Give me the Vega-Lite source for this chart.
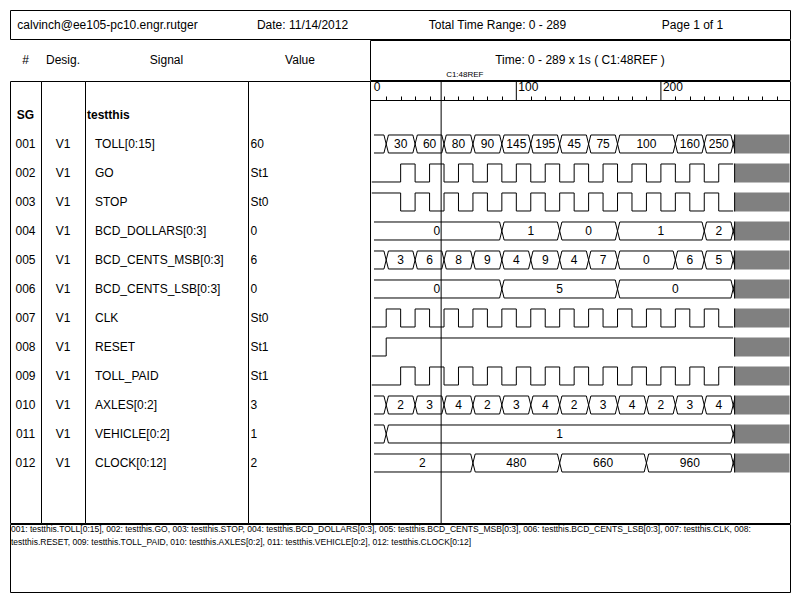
{
  "$schema": "https://vega.github.io/schema/vega-lite/v6.json",
  "background": "white",
  "padding": {"left": 9, "top": 9, "right": 9, "bottom": 9},
  "spacing": -3,
  "config": {
    "view": {"stroke": "black", "strokeWidth": 1},
    "mark": {"color": "black"},
    "text": {"font": "Liberation Sans", "fontSize": 12, "color": "black"}
  },
  "datasets": {
    "header": [
      {"item": "user", "text": "calvinch@ee105-pc10.engr.rutger"},
      {"item": "date", "text": "Date: 11/14/2012"},
      {"item": "range", "text": "Total Time Range: 0 - 289"},
      {"item": "page", "text": "Page 1 of 1"}
    ],
    "rows": [
      {"row": 0, "num": "SG", "desig": "", "name": "testthis", "value": ""},
      {"row": 1, "num": "001", "desig": "V1", "name": "TOLL[0:15]", "value": "60"},
      {"row": 2, "num": "002", "desig": "V1", "name": "GO", "value": "St1"},
      {"row": 3, "num": "003", "desig": "V1", "name": "STOP", "value": "St0"},
      {"row": 4, "num": "004", "desig": "V1", "name": "BCD_DOLLARS[0:3]", "value": "0"},
      {"row": 5, "num": "005", "desig": "V1", "name": "BCD_CENTS_MSB[0:3]", "value": "6"},
      {"row": 6, "num": "006", "desig": "V1", "name": "BCD_CENTS_LSB[0:3]", "value": "0"},
      {"row": 7, "num": "007", "desig": "V1", "name": "CLK", "value": "St0"},
      {"row": 8, "num": "008", "desig": "V1", "name": "RESET", "value": "St1"},
      {"row": 9, "num": "009", "desig": "V1", "name": "TOLL_PAID", "value": "St1"},
      {"row": 10, "num": "010", "desig": "V1", "name": "AXLES[0:2]", "value": "3"},
      {"row": 11, "num": "011", "desig": "V1", "name": "VEHICLE[0:2]", "value": "1"},
      {"row": 12, "num": "012", "desig": "V1", "name": "CLOCK[0:12]", "value": "2"}
    ],
    "cursor": [{"t": 48, "name": "C1:48REF"}],
    "ruler": [{"t": 0, "label": "0"}, {"t": 100, "label": "100"}, {"t": 200, "label": "200"}],
    "grey": [
      {"row": 1, "t0": 251, "t1": 289}, {"row": 2, "t0": 251, "t1": 289}, {"row": 3, "t0": 251, "t1": 289},
      {"row": 4, "t0": 251, "t1": 289}, {"row": 5, "t0": 251, "t1": 289}, {"row": 6, "t0": 251, "t1": 289},
      {"row": 7, "t0": 251, "t1": 289}, {"row": 8, "t0": 251, "t1": 289}, {"row": 9, "t0": 251, "t1": 289},
      {"row": 10, "t0": 251, "t1": 289}, {"row": 11, "t0": 251, "t1": 289}, {"row": 12, "t0": 251, "t1": 289}
    ],
    "bus": [
      {"row": 1, "t0": 0, "t1": 10, "label": ""},
      {"row": 1, "t0": 10, "t1": 30, "label": "30"},
      {"row": 1, "t0": 30, "t1": 50, "label": "60"},
      {"row": 1, "t0": 50, "t1": 70, "label": "80"},
      {"row": 1, "t0": 70, "t1": 90, "label": "90"},
      {"row": 1, "t0": 90, "t1": 110, "label": "145"},
      {"row": 1, "t0": 110, "t1": 130, "label": "195"},
      {"row": 1, "t0": 130, "t1": 150, "label": "45"},
      {"row": 1, "t0": 150, "t1": 170, "label": "75"},
      {"row": 1, "t0": 170, "t1": 210, "label": "100"},
      {"row": 1, "t0": 210, "t1": 230, "label": "160"},
      {"row": 1, "t0": 230, "t1": 250, "label": "250"},
      {"row": 4, "t0": 0, "t1": 90, "label": "0"},
      {"row": 4, "t0": 90, "t1": 130, "label": "1"},
      {"row": 4, "t0": 130, "t1": 170, "label": "0"},
      {"row": 4, "t0": 170, "t1": 230, "label": "1"},
      {"row": 4, "t0": 230, "t1": 250, "label": "2"},
      {"row": 5, "t0": 0, "t1": 10, "label": ""},
      {"row": 5, "t0": 10, "t1": 30, "label": "3"},
      {"row": 5, "t0": 30, "t1": 50, "label": "6"},
      {"row": 5, "t0": 50, "t1": 70, "label": "8"},
      {"row": 5, "t0": 70, "t1": 90, "label": "9"},
      {"row": 5, "t0": 90, "t1": 110, "label": "4"},
      {"row": 5, "t0": 110, "t1": 130, "label": "9"},
      {"row": 5, "t0": 130, "t1": 150, "label": "4"},
      {"row": 5, "t0": 150, "t1": 170, "label": "7"},
      {"row": 5, "t0": 170, "t1": 210, "label": "0"},
      {"row": 5, "t0": 210, "t1": 230, "label": "6"},
      {"row": 5, "t0": 230, "t1": 250, "label": "5"},
      {"row": 6, "t0": 0, "t1": 90, "label": "0"},
      {"row": 6, "t0": 90, "t1": 170, "label": "5"},
      {"row": 6, "t0": 170, "t1": 250, "label": "0"},
      {"row": 10, "t0": 0, "t1": 10, "label": ""},
      {"row": 10, "t0": 10, "t1": 30, "label": "2"},
      {"row": 10, "t0": 30, "t1": 50, "label": "3"},
      {"row": 10, "t0": 50, "t1": 70, "label": "4"},
      {"row": 10, "t0": 70, "t1": 90, "label": "2"},
      {"row": 10, "t0": 90, "t1": 110, "label": "3"},
      {"row": 10, "t0": 110, "t1": 130, "label": "4"},
      {"row": 10, "t0": 130, "t1": 150, "label": "2"},
      {"row": 10, "t0": 150, "t1": 170, "label": "3"},
      {"row": 10, "t0": 170, "t1": 190, "label": "4"},
      {"row": 10, "t0": 190, "t1": 210, "label": "2"},
      {"row": 10, "t0": 210, "t1": 230, "label": "3"},
      {"row": 10, "t0": 230, "t1": 250, "label": "4"},
      {"row": 11, "t0": 0, "t1": 10, "label": ""},
      {"row": 11, "t0": 10, "t1": 250, "label": "1"},
      {"row": 12, "t0": 0, "t1": 70, "label": "2"},
      {"row": 12, "t0": 70, "t1": 130, "label": "480"},
      {"row": 12, "t0": 130, "t1": 190, "label": "660"},
      {"row": 12, "t0": 190, "t1": 250, "label": "960"}
    ],
    "digital": [
      {"row": 2, "t0": 0, "t1": 20, "v": 0}, {"row": 2, "t0": 20, "t1": 30, "v": 1}, {"row": 2, "t0": 30, "t1": 40, "v": 0},
      {"row": 2, "t0": 40, "t1": 50, "v": 1}, {"row": 2, "t0": 50, "t1": 60, "v": 0}, {"row": 2, "t0": 60, "t1": 70, "v": 1},
      {"row": 2, "t0": 70, "t1": 80, "v": 0}, {"row": 2, "t0": 80, "t1": 90, "v": 1}, {"row": 2, "t0": 90, "t1": 100, "v": 0},
      {"row": 2, "t0": 100, "t1": 110, "v": 1}, {"row": 2, "t0": 110, "t1": 120, "v": 0}, {"row": 2, "t0": 120, "t1": 130, "v": 1},
      {"row": 2, "t0": 130, "t1": 140, "v": 0}, {"row": 2, "t0": 140, "t1": 150, "v": 1}, {"row": 2, "t0": 150, "t1": 160, "v": 0},
      {"row": 2, "t0": 160, "t1": 170, "v": 1}, {"row": 2, "t0": 170, "t1": 180, "v": 0}, {"row": 2, "t0": 180, "t1": 190, "v": 1},
      {"row": 2, "t0": 190, "t1": 200, "v": 0}, {"row": 2, "t0": 200, "t1": 210, "v": 1}, {"row": 2, "t0": 210, "t1": 220, "v": 0},
      {"row": 2, "t0": 220, "t1": 230, "v": 1}, {"row": 2, "t0": 230, "t1": 240, "v": 0}, {"row": 2, "t0": 240, "t1": 250, "v": 1},
      {"row": 3, "t0": 0, "t1": 20, "v": 1}, {"row": 3, "t0": 20, "t1": 30, "v": 0}, {"row": 3, "t0": 30, "t1": 40, "v": 1},
      {"row": 3, "t0": 40, "t1": 50, "v": 0}, {"row": 3, "t0": 50, "t1": 60, "v": 1}, {"row": 3, "t0": 60, "t1": 70, "v": 0},
      {"row": 3, "t0": 70, "t1": 80, "v": 1}, {"row": 3, "t0": 80, "t1": 90, "v": 0}, {"row": 3, "t0": 90, "t1": 100, "v": 1},
      {"row": 3, "t0": 100, "t1": 110, "v": 0}, {"row": 3, "t0": 110, "t1": 120, "v": 1}, {"row": 3, "t0": 120, "t1": 130, "v": 0},
      {"row": 3, "t0": 130, "t1": 140, "v": 1}, {"row": 3, "t0": 140, "t1": 150, "v": 0}, {"row": 3, "t0": 150, "t1": 160, "v": 1},
      {"row": 3, "t0": 160, "t1": 170, "v": 0}, {"row": 3, "t0": 170, "t1": 180, "v": 1}, {"row": 3, "t0": 180, "t1": 190, "v": 0},
      {"row": 3, "t0": 190, "t1": 200, "v": 1}, {"row": 3, "t0": 200, "t1": 210, "v": 0}, {"row": 3, "t0": 210, "t1": 220, "v": 1},
      {"row": 3, "t0": 220, "t1": 230, "v": 0}, {"row": 3, "t0": 230, "t1": 240, "v": 1}, {"row": 3, "t0": 240, "t1": 250, "v": 0},
      {"row": 7, "t0": 0, "t1": 10, "v": 0}, {"row": 7, "t0": 10, "t1": 20, "v": 1}, {"row": 7, "t0": 20, "t1": 30, "v": 0},
      {"row": 7, "t0": 30, "t1": 40, "v": 1}, {"row": 7, "t0": 40, "t1": 50, "v": 0}, {"row": 7, "t0": 50, "t1": 60, "v": 1},
      {"row": 7, "t0": 60, "t1": 70, "v": 0}, {"row": 7, "t0": 70, "t1": 80, "v": 1}, {"row": 7, "t0": 80, "t1": 90, "v": 0},
      {"row": 7, "t0": 90, "t1": 100, "v": 1}, {"row": 7, "t0": 100, "t1": 110, "v": 0}, {"row": 7, "t0": 110, "t1": 120, "v": 1},
      {"row": 7, "t0": 120, "t1": 130, "v": 0}, {"row": 7, "t0": 130, "t1": 140, "v": 1}, {"row": 7, "t0": 140, "t1": 150, "v": 0},
      {"row": 7, "t0": 150, "t1": 160, "v": 1}, {"row": 7, "t0": 160, "t1": 170, "v": 0}, {"row": 7, "t0": 170, "t1": 180, "v": 1},
      {"row": 7, "t0": 180, "t1": 190, "v": 0}, {"row": 7, "t0": 190, "t1": 200, "v": 1}, {"row": 7, "t0": 200, "t1": 210, "v": 0},
      {"row": 7, "t0": 210, "t1": 220, "v": 1}, {"row": 7, "t0": 220, "t1": 230, "v": 0}, {"row": 7, "t0": 230, "t1": 240, "v": 1},
      {"row": 7, "t0": 240, "t1": 250, "v": 0},
      {"row": 8, "t0": 0, "t1": 10, "v": 0}, {"row": 8, "t0": 10, "t1": 250, "v": 1},
      {"row": 9, "t0": 0, "t1": 20, "v": 0}, {"row": 9, "t0": 20, "t1": 30, "v": 1}, {"row": 9, "t0": 30, "t1": 40, "v": 0},
      {"row": 9, "t0": 40, "t1": 50, "v": 1}, {"row": 9, "t0": 50, "t1": 60, "v": 0}, {"row": 9, "t0": 60, "t1": 70, "v": 1},
      {"row": 9, "t0": 70, "t1": 80, "v": 0}, {"row": 9, "t0": 80, "t1": 90, "v": 1}, {"row": 9, "t0": 90, "t1": 100, "v": 0},
      {"row": 9, "t0": 100, "t1": 110, "v": 1}, {"row": 9, "t0": 110, "t1": 120, "v": 0}, {"row": 9, "t0": 120, "t1": 130, "v": 1},
      {"row": 9, "t0": 130, "t1": 140, "v": 0}, {"row": 9, "t0": 140, "t1": 150, "v": 1}, {"row": 9, "t0": 150, "t1": 160, "v": 0},
      {"row": 9, "t0": 160, "t1": 170, "v": 1}, {"row": 9, "t0": 170, "t1": 180, "v": 0}, {"row": 9, "t0": 180, "t1": 190, "v": 1},
      {"row": 9, "t0": 190, "t1": 200, "v": 0}, {"row": 9, "t0": 200, "t1": 210, "v": 1}, {"row": 9, "t0": 210, "t1": 220, "v": 0},
      {"row": 9, "t0": 220, "t1": 230, "v": 1}, {"row": 9, "t0": 230, "t1": 240, "v": 0}, {"row": 9, "t0": 240, "t1": 250, "v": 1}
    ],
    "footer": [
      {"line": 1, "text": "001: testthis.TOLL[0:15], 002: testthis.GO, 003: testthis.STOP, 004: testthis.BCD_DOLLARS[0:3], 005: testthis.BCD_CENTS_MSB[0:3], 006: testthis.BCD_CENTS_LSB[0:3], 007: testthis.CLK, 008:"},
      {"line": 2, "text": "testthis.RESET, 009: testthis.TOLL_PAID, 010: testthis.AXLES[0:2], 011: testthis.VEHICLE[0:2], 012: testthis.CLOCK[0:12]"}
    ]
  },
  "vconcat": [
    {
      "width": 780, "height": 29,
      "data": {"name": "header"},
      "mark": {"type": "text"},
      "encoding": {
        "x": {"field": "item", "type": "nominal", "sort": null, "scale": {"type": "point", "padding": 0.5, "domain": ["user", "date", "range", "page"]}, "axis": null},
        "text": {"field": "text"}
      }
    },
    {
      "bounds": "flush", "spacing": 0,
      "hconcat": [
        {"width": 31, "height": 40, "data": {"values": [{"text": "#"}]}, "mark": "text", "encoding": {"text": {"field": "text"}}},
        {"width": 44, "height": 40, "data": {"values": [{"text": "Desig."}]}, "mark": "text", "encoding": {"text": {"field": "text"}}},
        {"width": 163, "height": 40, "data": {"values": [{"text": "Signal"}]}, "mark": "text", "encoding": {"text": {"field": "text"}}},
        {"width": 122, "height": 40, "data": {"values": [{"text": "Value"}]}, "mark": {"type": "text", "dx": -9}, "encoding": {"text": {"field": "text"}}},
        {
          "width": 420, "height": 40,
          "layer": [
            {"data": {"values": [{"text": "Time: 0 - 289 x 1s ( C1:48REF )"}]}, "mark": "text", "encoding": {"text": {"field": "text"}}},
            {"data": {"name": "cursor"}, "mark": {"type": "text", "align": "left", "fontSize": 8, "dx": 5, "dy": 14.5},
             "encoding": {"x": {"field": "t", "type": "quantitative", "scale": {"domain": [-1.2, 289.3], "nice": false, "zero": false}, "axis": null}, "text": {"field": "name"}}}
          ]
        }
      ]
    },
    {
      "bounds": "flush", "spacing": 0,
      "hconcat": [
        {
          "width": 31, "height": 442, "data": {"name": "rows"},
          "layer": [
            {"transform": [{"filter": "datum.row > 0"}], "mark": "text",
             "encoding": {"y": {"field": "row", "type": "quantitative", "scale": {"domain": [-1.17241, 14.06897], "reverse": true, "nice": false, "zero": false}, "axis": null}, "text": {"field": "num"}}},
            {"transform": [{"filter": "datum.row == 0"}], "mark": {"type": "text", "fontWeight": "bold"},
             "encoding": {"y": {"field": "row", "type": "quantitative", "scale": {"domain": [-1.17241, 14.06897], "reverse": true, "nice": false, "zero": false}, "axis": null}, "text": {"field": "num"}}}
          ]
        },
        {
          "width": 44, "height": 442, "data": {"name": "rows"},
          "mark": "text",
          "encoding": {"y": {"field": "row", "type": "quantitative", "scale": {"domain": [-1.17241, 14.06897], "reverse": true, "nice": false, "zero": false}, "axis": null}, "text": {"field": "desig"}}
        },
        {
          "width": 163, "height": 442, "data": {"name": "rows"},
          "layer": [
            {"transform": [{"filter": "datum.row > 0"}], "mark": {"type": "text", "align": "left", "dx": 10},
             "encoding": {"x": {"datum": 0, "type": "quantitative", "scale": {"domain": [0, 1]}, "axis": null},
                          "y": {"field": "row", "type": "quantitative", "scale": {"domain": [-1.17241, 14.06897], "reverse": true, "nice": false, "zero": false}, "axis": null}, "text": {"field": "name"}}},
            {"transform": [{"filter": "datum.row == 0"}], "mark": {"type": "text", "align": "left", "dx": 2, "fontWeight": "bold"},
             "encoding": {"x": {"datum": 0, "type": "quantitative", "scale": {"domain": [0, 1]}, "axis": null},
                          "y": {"field": "row", "type": "quantitative", "scale": {"domain": [-1.17241, 14.06897], "reverse": true, "nice": false, "zero": false}, "axis": null}, "text": {"field": "name"}}}
          ]
        },
        {
          "width": 122, "height": 442, "data": {"name": "rows"},
          "mark": {"type": "text", "align": "left", "dx": 2.5},
          "encoding": {"x": {"datum": 0, "type": "quantitative", "scale": {"domain": [0, 1]}, "axis": null},
                       "y": {"field": "row", "type": "quantitative", "scale": {"domain": [-1.17241, 14.06897], "reverse": true, "nice": false, "zero": false}, "axis": null}, "text": {"field": "value"}}
        },
        {
          "bounds": "flush", "spacing": 0,
          "vconcat": [
            {
              "width": 420, "height": 19,
              "layer": [
                {"data": {"name": "cursor"}, "mark": "rule",
                 "encoding": {"x": {"field": "t", "type": "quantitative", "scale": {"domain": [-1.2, 289.3], "nice": false, "zero": false},
                   "axis": {"orient": "bottom", "values": [10,20,30,40,50,60,70,80,90,110,120,130,140,150,160,170,180,190,210,220,230,240,250,260,270,280], "tickSize": -4, "domain": false, "labels": false, "grid": false, "title": null, "tickColor": "black", "tickWidth": 1}}}},
                {"data": {"name": "ruler"}, "transform": [{"filter": "datum.t > 0"}], "mark": "rule",
                 "encoding": {"x": {"field": "t", "type": "quantitative", "scale": {"domain": [-1.2, 289.3], "nice": false, "zero": false},
                   "axis": {"orient": "bottom", "values": [10,20,30,40,50,60,70,80,90,110,120,130,140,150,160,170,180,190,210,220,230,240,250,260,270,280], "tickSize": -4, "domain": false, "labels": false, "grid": false, "title": null, "tickColor": "black", "tickWidth": 1}}}},
                {"data": {"name": "ruler"}, "mark": {"type": "text", "align": "left", "dx": 2, "dy": -4},
                 "encoding": {"x": {"field": "t", "type": "quantitative", "scale": {"domain": [-1.2, 289.3], "nice": false, "zero": false},
                   "axis": {"orient": "bottom", "values": [10,20,30,40,50,60,70,80,90,110,120,130,140,150,160,170,180,190,210,220,230,240,250,260,270,280], "tickSize": -4, "domain": false, "labels": false, "grid": false, "title": null, "tickColor": "black", "tickWidth": 1}},
                   "text": {"field": "label"}}}
              ]
            },
            {
              "width": 420, "height": 423,
              "layer": [
                {"data": {"name": "digital"}, "transform": [{"filter": "datum.v == 1"}], "mark": {"type": "rule", "yOffset": -9},
                 "encoding": {
                   "x": {"field": "t0", "type": "quantitative", "scale": {"domain": [-1.2, 289.3], "nice": false, "zero": false}, "axis": null},
                   "x2": {"field": "t1"},
                   "y": {"field": "row", "type": "quantitative", "scale": {"domain": [-0.51724, 14.06897], "reverse": true, "nice": false, "zero": false}, "axis": null}
                 }},
                {"data": {"name": "digital"}, "transform": [{"filter": "datum.v == 0"}], "mark": {"type": "rule", "yOffset": 9},
                 "encoding": {
                   "x": {"field": "t0", "type": "quantitative", "scale": {"domain": [-1.2, 289.3], "nice": false, "zero": false}, "axis": null},
                   "x2": {"field": "t1"},
                   "y": {"field": "row", "type": "quantitative", "scale": {"domain": [-0.51724, 14.06897], "reverse": true, "nice": false, "zero": false}, "axis": null}
                 }},
                {"data": {"name": "digital"}, "transform": [{"filter": "datum.t0 > 0"}], "mark": {"type": "rule", "yOffset": -9, "y2Offset": 9},
                 "encoding": {
                   "x": {"field": "t0", "type": "quantitative", "scale": {"domain": [-1.2, 289.3], "nice": false, "zero": false}, "axis": null},
                   "y": {"field": "row", "type": "quantitative", "scale": {"domain": [-0.51724, 14.06897], "reverse": true, "nice": false, "zero": false}, "axis": null},
                   "y2": {"field": "row"}
                 }},
                {"data": {"name": "bus"}, "mark": {"type": "rule", "yOffset": -9, "xOffset": 2.25, "x2Offset": -2.25},
                 "encoding": {
                   "x": {"field": "t0", "type": "quantitative", "scale": {"domain": [-1.2, 289.3], "nice": false, "zero": false}, "axis": null},
                   "x2": {"field": "t1"},
                   "y": {"field": "row", "type": "quantitative", "scale": {"domain": [-0.51724, 14.06897], "reverse": true, "nice": false, "zero": false}, "axis": null}
                 }},
                {"data": {"name": "bus"}, "mark": {"type": "rule", "yOffset": 9, "xOffset": 2.25, "x2Offset": -2.25},
                 "encoding": {
                   "x": {"field": "t0", "type": "quantitative", "scale": {"domain": [-1.2, 289.3], "nice": false, "zero": false}, "axis": null},
                   "x2": {"field": "t1"},
                   "y": {"field": "row", "type": "quantitative", "scale": {"domain": [-0.51724, 14.06897], "reverse": true, "nice": false, "zero": false}, "axis": null}
                 }},
                {"data": {"name": "bus"}, "mark": {"type": "point", "shape": "M -0.25 -1 L 0.25 1 M -0.25 1 L 0.25 -1", "size": 324, "filled": false, "strokeWidth": 1, "opacity": 1},
                 "encoding": {
                   "x": {"field": "t1", "type": "quantitative", "scale": {"domain": [-1.2, 289.3], "nice": false, "zero": false}, "axis": null},
                   "y": {"field": "row", "type": "quantitative", "scale": {"domain": [-0.51724, 14.06897], "reverse": true, "nice": false, "zero": false}, "axis": null}
                 }},
                {"data": {"name": "bus"}, "transform": [{"filter": "datum.label != ''"}, {"calculate": "(datum.t0 + datum.t1) / 2", "as": "mid"}],
                 "mark": {"type": "text"},
                 "encoding": {
                   "x": {"field": "mid", "type": "quantitative", "scale": {"domain": [-1.2, 289.3], "nice": false, "zero": false}, "axis": null},
                   "y": {"field": "row", "type": "quantitative", "scale": {"domain": [-0.51724, 14.06897], "reverse": true, "nice": false, "zero": false}, "axis": null},
                   "text": {"field": "label"}
                 }},
                {"data": {"name": "grey"}, "mark": {"type": "rule", "strokeWidth": 19, "strokeCap": "butt", "color": "#808080"},
                 "encoding": {
                   "x": {"field": "t0", "type": "quantitative", "scale": {"domain": [-1.2, 289.3], "nice": false, "zero": false}, "axis": null},
                   "x2": {"field": "t1"},
                   "y": {"field": "row", "type": "quantitative", "scale": {"domain": [-0.51724, 14.06897], "reverse": true, "nice": false, "zero": false}, "axis": null}
                 }},
                {"data": {"name": "grey"}, "mark": {"type": "rule", "yOffset": -9.5, "y2Offset": 9.5},
                 "encoding": {
                   "x": {"field": "t0", "type": "quantitative", "scale": {"domain": [-1.2, 289.3], "nice": false, "zero": false}, "axis": null},
                   "y": {"field": "row", "type": "quantitative", "scale": {"domain": [-0.51724, 14.06897], "reverse": true, "nice": false, "zero": false}, "axis": null},
                   "y2": {"field": "row"}
                 }},
                {"data": {"name": "cursor"}, "mark": "rule",
                 "encoding": {"x": {"field": "t", "type": "quantitative", "scale": {"domain": [-1.2, 289.3], "nice": false, "zero": false}, "axis": null}}}
              ]
            }
          ]
        }
      ]
    },
    {
      "width": 780, "height": 68,
      "data": {"name": "footer"},
      "mark": {"type": "text", "align": "left", "fontSize": 8.5, "dx": 1},
      "encoding": {
        "x": {"datum": 0, "type": "quantitative", "scale": {"domain": [0, 1]}, "axis": null},
        "y": {"field": "line", "type": "quantitative", "scale": {"domain": [0.6, 6.04], "reverse": true, "nice": false, "zero": false}, "axis": null},
        "text": {"field": "text"}
      }
    }
  ]
}
